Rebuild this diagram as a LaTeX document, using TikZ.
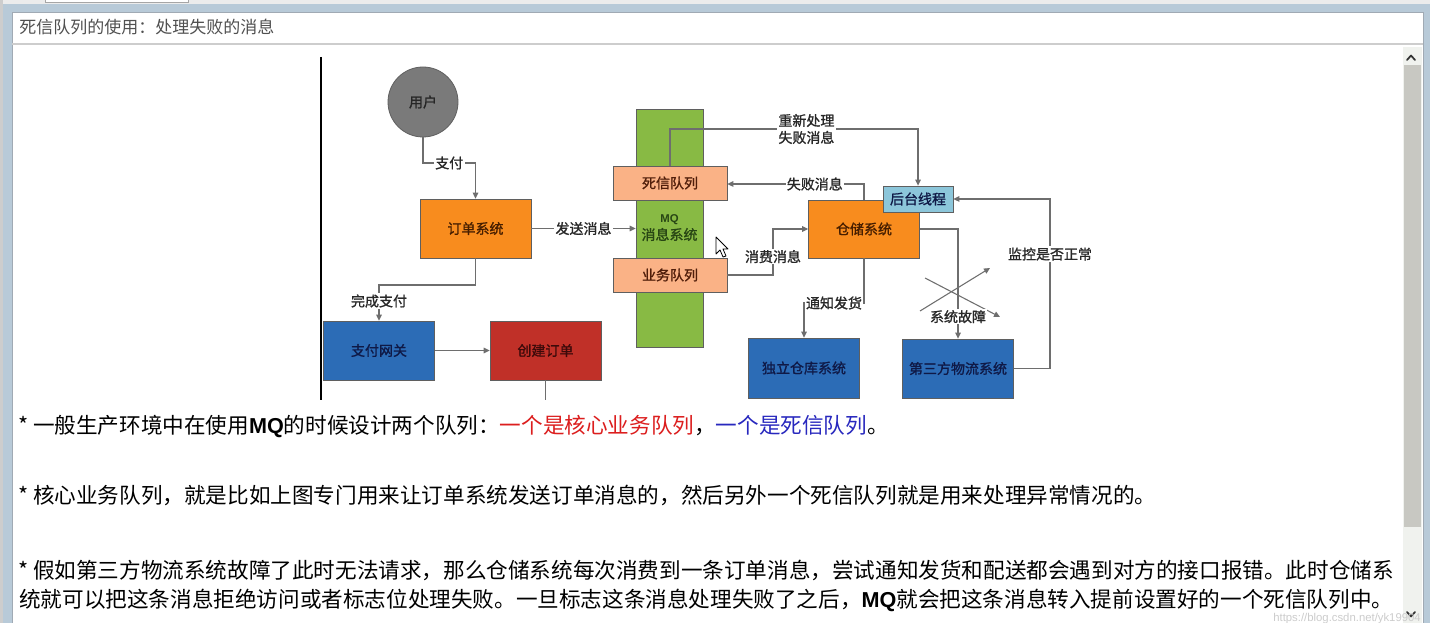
\documentclass[tikz,border=0pt]{standalone}
\usepackage{fontspec}
\setmainfont{Noto Sans CJK SC}
\newfontfamily\latfont{Liberation Sans}
\newfontfamily\diafont[FakeBold=1.2]{Noto Sans CJK SC}
\usetikzlibrary{arrows.meta}
\definecolor{frameblue}{RGB}{184,202,216}
\definecolor{topgray}{RGB}{236,236,236}
\definecolor{sidegray}{RGB}{205,205,205}
\definecolor{sepgray}{RGB}{205,205,205}
\definecolor{panelline}{RGB}{160,170,180}
\definecolor{titlegray}{RGB}{80,80,80}
\definecolor{trackcol}{RGB}{240,242,238}
\definecolor{thumbcol}{RGB}{200,200,194}
\definecolor{linegray}{RGB}{110,110,110}
\definecolor{boxline}{RGB}{95,95,95}
\definecolor{orangefill}{RGB}{248,140,30}
\definecolor{salmonfill}{RGB}{250,178,134}
\definecolor{greenfill}{RGB}{136,186,68}
\definecolor{bluefill}{RGB}{44,108,182}
\definecolor{redfill}{RGB}{192,48,40}
\definecolor{lbluefill}{RGB}{140,198,218}
\definecolor{usergray}{RGB}{122,122,122}
\definecolor{txtred}{RGB}{220,30,30}
\definecolor{txtblue}{RGB}{40,40,190}
\definecolor{labeltext}{RGB}{40,40,40}
\definecolor{ordertext}{RGB}{70,30,0}
\definecolor{bluetext}{RGB}{15,25,70}
\definecolor{redtext}{RGB}{60,10,10}
\definecolor{mqtext}{RGB}{40,70,20}
\definecolor{qtext}{RGB}{80,30,10}
\tikzset{
  dfont/.style={font=\diafont\fontsize{10.5}{12.75}\selectfont},
  sysbox/.style={draw=boxline, line width=0.6pt, minimum width=83.25pt, minimum height=44.25pt, inner sep=0pt, dfont},
  qbox/.style={draw=boxline, line width=0.6pt, fill=salmonfill, text=qtext, minimum width=85.5pt, minimum height=25.5pt, inner sep=0pt, dfont},
  mqbox/.style={draw=boxline, line width=0.6pt, fill=greenfill, text=mqtext, minimum width=50.25pt, minimum height=178.5pt, inner sep=0pt, align=center, dfont},
  bgbox/.style={draw=boxline, line width=0.6pt, fill=lbluefill, text=bluetext, minimum width=52.5pt, minimum height=19.5pt, inner sep=0pt, dfont},
  userc/.style={circle, draw=boxline, line width=0.6pt, fill=usergray, text=black!85, minimum size=52.5pt, inner sep=0pt, dfont},
  conn/.style={draw=linegray, line width=0.8pt},
  arr/.style={conn, -{Triangle[length=4.5pt,width=4.2pt]}},
  lbl/.style={fill=white, inner sep=1pt, text=labeltext, dfont},
  body/.style={anchor=base west, inner sep=0pt, text=black, font=\fontsize{16.2}{18}\selectfont},
}
\begin{document}
\begin{tikzpicture}[x=0.75pt,y=-0.75pt]
% frame
\fill[frameblue] (0,0) rectangle (1430,623);
\useasboundingbox (0,0) rectangle (1430,623);
\fill[topgray] (0,0) rectangle (1430,4);
\fill[sidegray] (0,0) rectangle (3,623);
\draw[fill=white, draw=gray!70, line width=0.6pt] (45,-4) rectangle (188,2.5);
\fill[white] (12,12) rectangle (1423,623);
\draw[panelline, line width=0.6pt] (12,623) -- (12,12) -- (1423,12) -- (1423,623);
\draw[sepgray, line width=1.5pt] (12,44) -- (1423,44);
\node[anchor=base west, text=titlegray, font=\fontsize{12.75}{14}\selectfont, inner sep=0pt] (title) at (19,34) {死信队列的使用：处理失败的消息};
% scrollbar
\fill[trackcol] (1403,47) rectangle (1422,623);
\fill[thumbcol] (1404,65) rectangle (1421,527);
\draw[black!80, line width=1.3pt, line cap=round, line join=round] (1407,60) -- (1411,55.5) -- (1415,60);
\draw[black!80, line width=1.3pt, line cap=round, line join=round] (1407,612) -- (1411,616.5) -- (1415,612);
% left rule of the figure
\draw[black, line width=0.9pt] (321,57) -- (321,400);
% nodes
\node[userc] (user) at (423,102) {用户};
\node[sysbox, fill=orangefill, text=ordertext] (order) at (475.5,228.5) {订单系统};
\node[sysbox, fill=bluefill, text=bluetext] (pay) at (379,350.5) {支付网关};
\node[sysbox, fill=redfill, text=redtext] (create) at (545.5,350.5) {创建订单};
\node[mqbox] (mq) at (669.5,228) {{\latfont\bfseries\fontsize{8.5}{10}\selectfont MQ}\\消息系统};
\node[qbox] (dlq) at (670,183) {死信队列};
\node[qbox] (bizq) at (670,275) {业务队列};
\node[sysbox, fill=orangefill, text=ordertext, minimum height=43.5pt] (wh) at (864,229) {仓储系统};
\node[bgbox] (bg) at (918,199) {后台线程};
\node[sysbox, fill=bluefill, text=bluetext, minimum height=45pt] (inv) at (804,368) {独立仓库系统};
\node[sysbox, fill=bluefill, text=bluetext] (log) at (958,368.5) {第三方物流系统};
% helper coordinates
\coordinate (u1) at (423,163); \coordinate (u2) at (475.5,163);
\coordinate (o1) at (475.5,285); \coordinate (o2) at (379,285);
\coordinate (c1) at (545.5,400);
\coordinate (d1) at (670,129); \coordinate (d2) at (918,129);
\coordinate (w1) at (864,184);
\coordinate (b1) at (773,275); \coordinate (b2) at (773,229);
\coordinate (n1) at (864,303); \coordinate (n2) at (804,303);
\coordinate (f1) at (958,229);
\coordinate (x1a) at (920,311); \coordinate (x1b) at (990,268);
\coordinate (x2a) at (925,278); \coordinate (x2b) at (1000,317);
\coordinate (m1) at (1050,368.5); \coordinate (m2) at (1050,199);
% connectors
\draw[arr] (x1a) -- (x1b);
\draw[arr] (x2a) -- (x2b);
\draw[arr] (user) -- (u1) -- node[lbl]{支付} (u2) -- (order);
\draw[arr] (order) -- node[lbl]{发送消息} (order -| mq.west);
\draw[arr] (order) -- (o1) -- (o2) -- node[lbl,pos=0.45]{完成支付} (pay);
\draw[arr] (pay) -- (create);
\draw[conn] (create) -- (c1);
\draw[arr] (dlq.north) -- (d1) -- node[lbl,pos=0.55,align=center]{重新处理\\失败消息} (d2) -- (bg);
\draw[arr] (wh.north) -- (w1) -- node[lbl,pos=0.36]{失败消息} (w1 -| dlq.east);
\draw[arr] (bizq.east) -- (b1) -- node[lbl,pos=0.4]{消费消息} (b2) -- (wh.west);
\draw[arr] (wh.south) -- (n1) -- node[lbl]{通知发货} (n2) -- (inv);
\draw[arr] (wh.east) -- (f1) -- node[lbl,pos=0.8]{系统故障} (log);
\draw[arr] (log.east) -- (m1) -- node[lbl,pos=0.675]{监控是否正常} (m2) -- (bg.east);
% mouse pointer
\draw[fill=white, draw=black, line width=0.6pt, line join=round] (716,237) -- (716,254) -- (720,250) -- (723,257) -- (726,256) -- (723,249) -- (728,249) -- cycle;
% body text
\node[body] (l1) at (18,433) {* 一般生产环境中在使用{\latfont\bfseries MQ}的时候设计两个队列：\textcolor{txtred}{一个是核心业务队列}，\textcolor{txtblue}{一个是死信队列}。};
\node[body] (l2) at (18,503) {* 核心业务队列，就是比如上图专门用来让订单系统发送订单消息的，然后另外一个死信队列就是用来处理异常情况的。};
\node[body] (l3) at (18,578) {* 假如第三方物流系统故障了此时无法请求，那么仓储系统每次消费到一条订单消息，尝试通知发货和配送都会遇到对方的接口报错。此时仓储系};
\node[body] (l4) at (19,607) {统就可以把这条消息拒绝访问或者标志位处理失败。一旦标志这条消息处理失败了之后，{\latfont\bfseries MQ}就会把这条消息转入提前设置好的一个死信队列中。};
\node[anchor=base east, inner sep=0pt, text=gray!40, font=\latfont\fontsize{8.5}{10}\selectfont] (wm) at (1421,621) {https://blog.csdn.net/yk19904};
\end{tikzpicture}
\end{document}
